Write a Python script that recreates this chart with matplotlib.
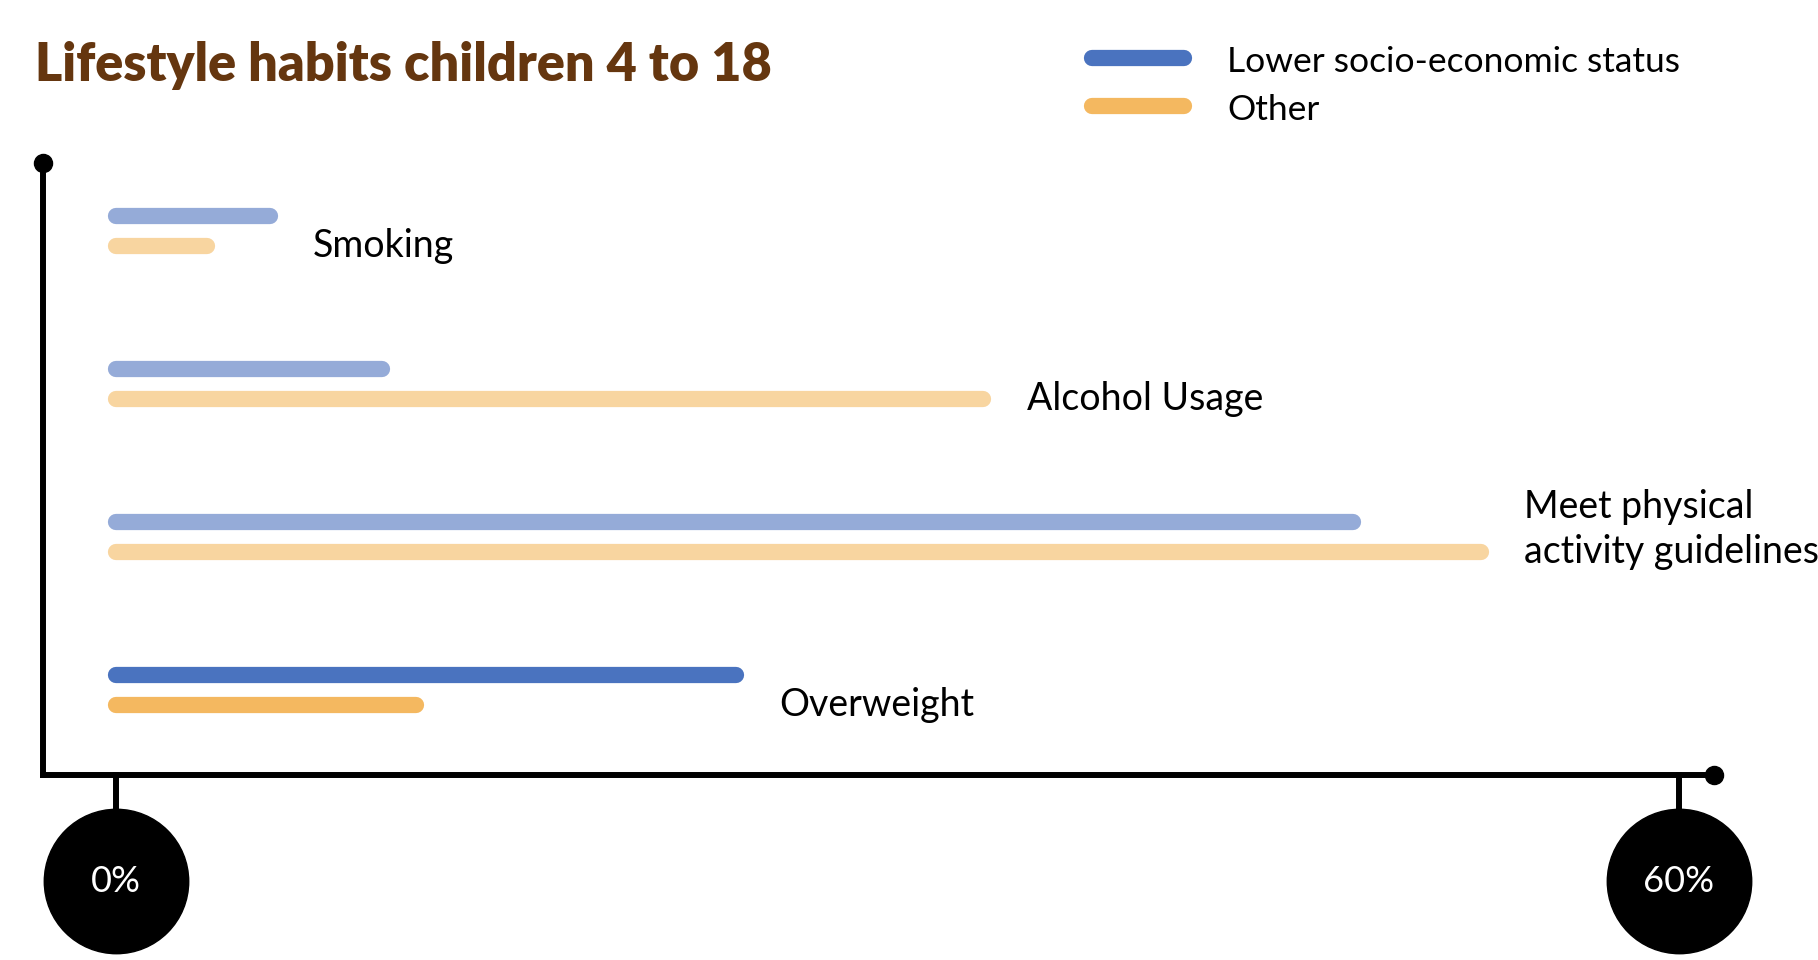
import matplotlib.pyplot as plt
from matplotlib.lines import Line2D

plt.rcParams['font.family'] = ['Lato', 'DejaVu Sans']

categories = ["Smoking", "Alcohol Usage", "Meet physical\nactivity guidelines", "Overweight"]
lower_ses = [5.9, 10.2, 47.5, 23.8]
other = [3.5, 33.3, 52.4, 11.5]
highlight = "Overweight"
tick_values = [0, 60]
tick_labels = ["0%", "60%"]

blue, blue_light = '#4A73BF', '#95ABD8'
orange, orange_light = '#F4B860', '#F8D5A0'
brown = '#65360F'

W, H = 1818, 960
fig = plt.figure(figsize=(W / 100, H / 100), dpi=100)

# axes placed in pixels: 0% at x=116, 60% at x=1679
px_per = (1679 - 116) / 60
x0, x1 = (43 - 116) / px_per, (1714 - 116) / px_per
row_px = 153
y_top, y_bot = (163 - 231) / row_px, (775 - 231) / row_px
ax = fig.add_axes([43 / W, 1 - 775 / H, (1714 - 43) / W, (775 - 163) / H])
ax.set_xlim(x0, x1)
ax.set_ylim(y_bot, y_top)
ax.set_xticks([])
ax.set_yticks([])
for s in ['top', 'right']:
    ax.spines[s].set_visible(False)
for s in ['left', 'bottom']:
    ax.spines[s].set_linewidth(4.3)
    ax.spines[s].set_color('black')
ax.patch.set_alpha(0)

lw = 11.7
off = 0.098
for i, cat in enumerate(categories):
    hi = cat == highlight
    cb = blue if hi else blue_light
    co = orange if hi else orange_light
    ax.plot([0, lower_ses[i]], [i - off, i - off], color=cb, lw=lw, solid_capstyle='round')
    ax.plot([0, other[i]], [i + off, i + off], color=co, lw=lw, solid_capstyle='round')
    ax.annotate(cat, xy=(max(lower_ses[i], other[i]), i + off), xytext=(31, -13),
                textcoords='offset points', fontsize=27, va='bottom', ha='left',
                color='black', linespacing=1.3)

# axis end dots
ax.plot([x0], [y_top], 'o', color='black', ms=13, clip_on=False)
ax.plot([x1], [y_bot], 'o', color='black', ms=13, clip_on=False)

# tick bubbles
y_circ = (881 - 231) / row_px
for v, lab in zip(tick_values, tick_labels):
    ax.plot([v, v], [y_bot, y_circ], color='black', lw=4.3, clip_on=False)
    ax.plot([v], [y_circ], 'o', color='black', ms=104, clip_on=False)
    ax.text(v, y_circ, lab, color='white', fontsize=26, ha='center', va='center')

# title
fig.text(35 / W, 1 - 81 / H, "Lifestyle habits children 4 to 18", fontsize=37.5,
         fontweight='heavy', color=brown, ha='left', va='baseline')

# legend
for y, c, lab in [(58, blue, "Lower socio-economic status"), (106, orange, "Other")]:
    fig.add_artist(Line2D([1092 / W, 1184 / W], [1 - y / H, 1 - y / H], color=c,
                          lw=11.7, solid_capstyle='round', transform=fig.transFigure))
    fig.text(1227 / W, 1 - (y + 4) / H, lab, fontsize=25.5, va='center', ha='left')

fig.savefig('out.png', dpi=100, facecolor='white')
